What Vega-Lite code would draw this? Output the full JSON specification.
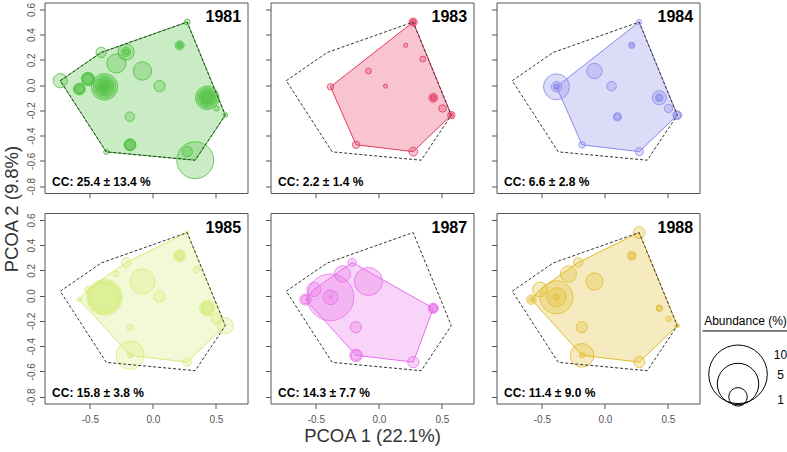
{
"$schema": "https://vega.github.io/schema/vega-lite/v6.json",
"padding": {"left": 0, "top": 1.5, "right": 0, "bottom": 0},
"spacing": 1.5,
"datasets": {
"sites": [
{"site":"S1","pc1":0.272,"pc2":0.500},{"site":"S2","pc1":0.213,"pc2":0.316},{"site":"S3","pc1":-0.410,"pc2":0.259},
{"site":"S4","pc1":-0.212,"pc2":0.263},{"site":"S5","pc1":-0.289,"pc2":0.172},{"site":"S6","pc1":-0.083,"pc2":0.112},
{"site":"S7","pc1":-0.735,"pc2":0.035},{"site":"S8","pc1":-0.515,"pc2":0.049},{"site":"S9","pc1":-0.583,"pc2":-0.031},
{"site":"S10","pc1":-0.384,"pc2":-0.013},{"site":"S11","pc1":0.053,"pc2":-0.008},{"site":"S12","pc1":0.432,"pc2":-0.100},
{"site":"S13","pc1":0.505,"pc2":-0.185},{"site":"S14","pc1":0.575,"pc2":-0.238},{"site":"S15","pc1":-0.183,"pc2":-0.250},
{"site":"S16","pc1":-0.181,"pc2":-0.473},{"site":"S17","pc1":-0.370,"pc2":-0.529},{"site":"S18","pc1":0.336,"pc2":-0.595},
{"site":"S19","pc1":0.273,"pc2":-0.527},{"site":"S20","pc1":0.349,"pc2":0.207},{"site":"S21","pc1":0.100,"pc2":-0.251}
],
"obs": [
{"year":1981,"site":"S1","abundance":0.10},{"year":1981,"site":"S2","abundance":0.23},{"year":1981,"site":"S2","abundance":0.10},{"year":1981,"site":"S2","abundance":0.06},
{"year":1981,"site":"S3","abundance":0.31},{"year":1981,"site":"S4","abundance":0.77},{"year":1981,"site":"S4","abundance":0.23},{"year":1981,"site":"S4","abundance":0.08},
{"year":1981,"site":"S5","abundance":1.07},{"year":1981,"site":"S6","abundance":0.98},{"year":1981,"site":"S7","abundance":0.59},
{"year":1981,"site":"S8","abundance":0.52},{"year":1981,"site":"S8","abundance":0.40},{"year":1981,"site":"S8","abundance":0.30},
{"year":1981,"site":"S9","abundance":0.41},{"year":1981,"site":"S9","abundance":0.30},{"year":1981,"site":"S9","abundance":0.20},
{"year":1981,"site":"S10","abundance":2.06},{"year":1981,"site":"S10","abundance":1.43},{"year":1981,"site":"S10","abundance":0.92},{"year":1981,"site":"S10","abundance":0.52},{"year":1981,"site":"S10","abundance":0.23},{"year":1981,"site":"S10","abundance":0.08},
{"year":1981,"site":"S11","abundance":0.37},
{"year":1981,"site":"S12","abundance":1.63},{"year":1981,"site":"S12","abundance":1.18},{"year":1981,"site":"S12","abundance":0.77},{"year":1981,"site":"S12","abundance":0.45},{"year":1981,"site":"S12","abundance":0.23},
{"year":1981,"site":"S13","abundance":0.08},{"year":1981,"site":"S14","abundance":0.07},{"year":1981,"site":"S15","abundance":0.26},
{"year":1981,"site":"S16","abundance":0.41},{"year":1981,"site":"S16","abundance":0.35},{"year":1981,"site":"S16","abundance":0.30},
{"year":1981,"site":"S17","abundance":0.08},{"year":1981,"site":"S18","abundance":3.98},{"year":1981,"site":"S19","abundance":0.31},

{"year":1983,"site":"S1","abundance":0.20},{"year":1983,"site":"S1","abundance":0.10},{"year":1983,"site":"S1","abundance":0.06},
{"year":1983,"site":"S2","abundance":0.05},{"year":1983,"site":"S20","abundance":0.10},{"year":1983,"site":"S6","abundance":0.10},
{"year":1983,"site":"S10","abundance":0.12},{"year":1983,"site":"S11","abundance":0.05},
{"year":1983,"site":"S12","abundance":0.23},{"year":1983,"site":"S12","abundance":0.10},{"year":1983,"site":"S12","abundance":0.05},
{"year":1983,"site":"S13","abundance":0.16},{"year":1983,"site":"S14","abundance":0.16},{"year":1983,"site":"S14","abundance":0.06},
{"year":1983,"site":"S16","abundance":0.16},{"year":1983,"site":"S19","abundance":0.23},

{"year":1984,"site":"S1","abundance":0.08},{"year":1984,"site":"S2","abundance":0.12},{"year":1984,"site":"S2","abundance":0.04},
{"year":1984,"site":"S6","abundance":0.69},
{"year":1984,"site":"S10","abundance":1.97},{"year":1984,"site":"S10","abundance":0.31},{"year":1984,"site":"S10","abundance":0.10},{"year":1984,"site":"S10","abundance":0.05},
{"year":1984,"site":"S11","abundance":0.26},
{"year":1984,"site":"S12","abundance":0.58},{"year":1984,"site":"S12","abundance":0.16},{"year":1984,"site":"S12","abundance":0.12},
{"year":1984,"site":"S13","abundance":0.20},{"year":1984,"site":"S14","abundance":0.23},{"year":1984,"site":"S14","abundance":0.15},
{"year":1984,"site":"S21","abundance":0.20},{"year":1984,"site":"S21","abundance":0.12},
{"year":1984,"site":"S16","abundance":0.12},{"year":1984,"site":"S19","abundance":0.20},

{"year":1985,"site":"S1","abundance":0.04},{"year":1985,"site":"S2","abundance":0.41},{"year":1985,"site":"S2","abundance":0.25},{"year":1985,"site":"S2","abundance":0.15},
{"year":1985,"site":"S20","abundance":0.12},{"year":1985,"site":"S4","abundance":0.26},{"year":1985,"site":"S5","abundance":0.08},
{"year":1985,"site":"S6","abundance":1.84},{"year":1985,"site":"S8","abundance":0.12},{"year":1985,"site":"S9","abundance":0.05},
{"year":1985,"site":"S10","abundance":3.66},{"year":1985,"site":"S10","abundance":3.10},{"year":1985,"site":"S10","abundance":2.50},
{"year":1985,"site":"S11","abundance":0.37},
{"year":1985,"site":"S12","abundance":0.69},{"year":1985,"site":"S12","abundance":0.45},{"year":1985,"site":"S12","abundance":0.30},
{"year":1985,"site":"S13","abundance":0.31},{"year":1985,"site":"S14","abundance":0.77},{"year":1985,"site":"S15","abundance":0.10},
{"year":1985,"site":"S16","abundance":2.30},{"year":1985,"site":"S16","abundance":0.08},{"year":1985,"site":"S19","abundance":0.20},

{"year":1987,"site":"S4","abundance":0.20},{"year":1987,"site":"S5","abundance":0.77},{"year":1987,"site":"S6","abundance":2.30},
{"year":1987,"site":"S8","abundance":0.59},{"year":1987,"site":"S9","abundance":0.37},{"year":1987,"site":"S9","abundance":0.20},
{"year":1987,"site":"S10","abundance":6.35},{"year":1987,"site":"S10","abundance":0.64},{"year":1987,"site":"S10","abundance":0.03},
{"year":1987,"site":"S12","abundance":0.31},{"year":1987,"site":"S12","abundance":0.20},{"year":1987,"site":"S12","abundance":0.15},
{"year":1987,"site":"S15","abundance":0.37},{"year":1987,"site":"S16","abundance":0.46},{"year":1987,"site":"S16","abundance":0.30},
{"year":1987,"site":"S19","abundance":0.37},

{"year":1988,"site":"S1","abundance":0.41},{"year":1988,"site":"S2","abundance":0.23},{"year":1988,"site":"S2","abundance":0.10},
{"year":1988,"site":"S4","abundance":0.26},{"year":1988,"site":"S5","abundance":0.77},{"year":1988,"site":"S6","abundance":0.86},
{"year":1988,"site":"S8","abundance":0.64},{"year":1988,"site":"S9","abundance":0.26},{"year":1988,"site":"S9","abundance":0.08},
{"year":1988,"site":"S10","abundance":3.19},{"year":1988,"site":"S10","abundance":1.07},{"year":1988,"site":"S10","abundance":0.10},
{"year":1988,"site":"S12","abundance":0.12},{"year":1988,"site":"S12","abundance":0.08},{"year":1988,"site":"S13","abundance":0.08},
{"year":1988,"site":"S14","abundance":0.05},{"year":1988,"site":"S15","abundance":0.37},{"year":1988,"site":"S16","abundance":1.63},
{"year":1988,"site":"S16","abundance":0.08},{"year":1988,"site":"S19","abundance":0.37}
],
"hulls": [
{"year":1981,"site":"S7","order":1},{"year":1981,"site":"S3","order":2},{"year":1981,"site":"S1","order":3},{"year":1981,"site":"S14","order":4},{"year":1981,"site":"S18","order":5},{"year":1981,"site":"S17","order":6},
{"year":1983,"site":"S10","order":1},{"year":1983,"site":"S1","order":2},{"year":1983,"site":"S14","order":3},{"year":1983,"site":"S19","order":4},{"year":1983,"site":"S16","order":5},
{"year":1984,"site":"S10","order":1},{"year":1984,"site":"S1","order":2},{"year":1984,"site":"S14","order":3},{"year":1984,"site":"S19","order":4},{"year":1984,"site":"S16","order":5},
{"year":1985,"site":"S9","order":1},{"year":1985,"site":"S8","order":2},{"year":1985,"site":"S4","order":3},{"year":1985,"site":"S1","order":4},{"year":1985,"site":"S14","order":5},{"year":1985,"site":"S19","order":6},{"year":1985,"site":"S16","order":7},
{"year":1987,"site":"S9","order":1},{"year":1987,"site":"S8","order":2},{"year":1987,"site":"S4","order":3},{"year":1987,"site":"S12","order":4},{"year":1987,"site":"S19","order":5},{"year":1987,"site":"S16","order":6},
{"year":1988,"site":"S9","order":1},{"year":1988,"site":"S8","order":2},{"year":1988,"site":"S4","order":3},{"year":1988,"site":"S1","order":4},{"year":1988,"site":"S14","order":5},{"year":1988,"site":"S19","order":6},{"year":1988,"site":"S16","order":7}
],
"panels": [
{"year":1981,"label":"1981","cc":"CC: 25.4 ± 13.4 %"},
{"year":1983,"label":"1983","cc":"CC: 2.2 ± 1.4 %"},
{"year":1984,"label":"1984","cc":"CC: 6.6 ± 2.8 %"},
{"year":1985,"label":"1985","cc":"CC: 15.8 ± 3.8 %"},
{"year":1987,"label":"1987","cc":"CC: 14.3 ± 7.7 %"},
{"year":1988,"label":"1988","cc":"CC: 11.4 ± 9.0 %"}
],
"legendrows": [{"abundance": 10, "label": "10"}, {"abundance": 5, "label": "5"}, {"abundance": 1, "label": "1"}]
},
"hconcat": [
{
"width": 24, "height": 413, "view": {"stroke": null},
"data": {"values": [{"t": "PCOA 2 (9.8%)"}]},
"mark": {"type": "text", "angle": 270, "fontSize": 18.5, "color": "#333333", "align": "center", "baseline": "middle"},
"encoding": {"text": {"field": "t"}}
},
{
"vconcat": [
{"hconcat": [
{
"width": 203, "height": 190.5,
"layer": [
{"encoding": {
  "x": {"field": "pc1", "type": "quantitative", "scale": {"domain": [-0.86, 0.751], "nice": false, "zero": false}, "axis": {"values": [-0.5, 0, 0.5], "labels": false, "title": null}},
  "y": {"field": "pc2", "type": "quantitative", "scale": {"domain": [-0.855, 0.655], "nice": false, "zero": false}, "axis": {"values": [-0.8, -0.6, -0.4, -0.2, 0, 0.2, 0.4, 0.6], "labels": true, "labelOverlap": false, "title": null, "labelExpr": "(datum.value < 0 ? '-' : '') + format(abs(datum.value), '.1f')"}}},
 "layer": [
  {"data": {"name": "hulls"}, "transform": [{"filter": "datum.year == 1981"}, {"lookup": "site", "from": {"data": {"name": "sites"}, "key": "site", "fields": ["pc1", "pc2"]}}],
   "mark": {"type": "line", "interpolate": "linear-closed", "fill": "#4CC03C", "fillOpacity": 0.3, "stroke": "#4CC03C", "strokeWidth": 1},
   "encoding": {"order": {"field": "order", "type": "quantitative"}}},
  {"data": {"name": "obs"}, "transform": [{"filter": "datum.year == 1981"}, {"lookup": "site", "from": {"data": {"name": "sites"}, "key": "site", "fields": ["pc1", "pc2"]}}],
   "mark": {"type": "circle", "fill": "#4CC03C", "fillOpacity": 0.3, "stroke": "#4CC03C", "strokeOpacity": 0.8, "strokeWidth": 1, "opacity": 1},
   "encoding": {"size": {"field": "abundance", "type": "quantitative", "scale": {"type": "linear", "domain": [0, 10], "range": [0, 3430], "zero": true}, "legend": null}}},
  {"data": {"name": "hulls"}, "transform": [{"filter": "datum.year == 1981"}, {"lookup": "site", "from": {"data": {"name": "sites"}, "key": "site", "fields": ["pc1", "pc2"]}}],
   "mark": {"type": "line", "interpolate": "linear-closed", "stroke": "#333333", "strokeWidth": 1, "strokeDash": [3, 2]},
   "encoding": {"order": {"field": "order", "type": "quantitative"}}}
 ]},
{"data": {"name": "panels"}, "transform": [{"filter": "datum.year == 1981"}],
 "mark": {"type": "text", "align": "right", "baseline": "alphabetic", "fontSize": 16, "fontWeight": "bold", "color": "#000000"},
 "encoding": {
  "x": {"datum": 0.70, "type": "quantitative", "scale": {"domain": [-0.86, 0.751], "nice": false, "zero": false}, "axis": {"values": [-0.5, 0, 0.5], "labels": false, "title": null}},
  "y": {"datum": 0.50, "type": "quantitative", "scale": {"domain": [-0.855, 0.655], "nice": false, "zero": false}, "axis": {"values": [-0.8, -0.6, -0.4, -0.2, 0, 0.2, 0.4, 0.6], "labels": true, "labelOverlap": false, "title": null, "labelExpr": "(datum.value < 0 ? '-' : '') + format(abs(datum.value), '.1f')"}},
  "text": {"field": "label"}}},
{"data": {"name": "panels"}, "transform": [{"filter": "datum.year == 1981"}],
 "mark": {"type": "text", "align": "left", "baseline": "alphabetic", "fontSize": 12, "fontWeight": "bold", "color": "#000000"},
 "encoding": {
  "x": {"datum": -0.80, "type": "quantitative", "scale": {"domain": [-0.86, 0.751], "nice": false, "zero": false}, "axis": {"values": [-0.5, 0, 0.5], "labels": false, "title": null}},
  "y": {"datum": -0.803, "type": "quantitative", "scale": {"domain": [-0.855, 0.655], "nice": false, "zero": false}, "axis": {"values": [-0.8, -0.6, -0.4, -0.2, 0, 0.2, 0.4, 0.6], "labels": true, "labelOverlap": false, "title": null, "labelExpr": "(datum.value < 0 ? '-' : '') + format(abs(datum.value), '.1f')"}},
  "text": {"field": "cc"}}}
]
},
{
"width": 203, "height": 190.5,
"layer": [
{"encoding": {
  "x": {"field": "pc1", "type": "quantitative", "scale": {"domain": [-0.86, 0.751], "nice": false, "zero": false}, "axis": {"values": [-0.5, 0, 0.5], "labels": false, "title": null}},
  "y": {"field": "pc2", "type": "quantitative", "scale": {"domain": [-0.855, 0.655], "nice": false, "zero": false}, "axis": {"values": [-0.8, -0.6, -0.4, -0.2, 0, 0.2, 0.4, 0.6], "labels": false, "title": null}}},
 "layer": [
  {"data": {"name": "hulls"}, "transform": [{"filter": "datum.year == 1983"}, {"lookup": "site", "from": {"data": {"name": "sites"}, "key": "site", "fields": ["pc1", "pc2"]}}],
   "mark": {"type": "line", "interpolate": "linear-closed", "fill": "#E43A62", "fillOpacity": 0.3, "stroke": "#E43A62", "strokeWidth": 1},
   "encoding": {"order": {"field": "order", "type": "quantitative"}}},
  {"data": {"name": "obs"}, "transform": [{"filter": "datum.year == 1983"}, {"lookup": "site", "from": {"data": {"name": "sites"}, "key": "site", "fields": ["pc1", "pc2"]}}],
   "mark": {"type": "circle", "fill": "#E43A62", "fillOpacity": 0.3, "stroke": "#E43A62", "strokeOpacity": 0.8, "strokeWidth": 1, "opacity": 1},
   "encoding": {"size": {"field": "abundance", "type": "quantitative", "scale": {"type": "linear", "domain": [0, 10], "range": [0, 3430], "zero": true}, "legend": null}}},
  {"data": {"name": "hulls"}, "transform": [{"filter": "datum.year == 1981"}, {"lookup": "site", "from": {"data": {"name": "sites"}, "key": "site", "fields": ["pc1", "pc2"]}}],
   "mark": {"type": "line", "interpolate": "linear-closed", "stroke": "#333333", "strokeWidth": 1, "strokeDash": [3, 2]},
   "encoding": {"order": {"field": "order", "type": "quantitative"}}}
 ]},
{"data": {"name": "panels"}, "transform": [{"filter": "datum.year == 1983"}],
 "mark": {"type": "text", "align": "right", "baseline": "alphabetic", "fontSize": 16, "fontWeight": "bold", "color": "#000000"},
 "encoding": {
  "x": {"datum": 0.70, "type": "quantitative", "scale": {"domain": [-0.86, 0.751], "nice": false, "zero": false}, "axis": {"values": [-0.5, 0, 0.5], "labels": false, "title": null}},
  "y": {"datum": 0.50, "type": "quantitative", "scale": {"domain": [-0.855, 0.655], "nice": false, "zero": false}, "axis": {"values": [-0.8, -0.6, -0.4, -0.2, 0, 0.2, 0.4, 0.6], "labels": false, "title": null}},
  "text": {"field": "label"}}},
{"data": {"name": "panels"}, "transform": [{"filter": "datum.year == 1983"}],
 "mark": {"type": "text", "align": "left", "baseline": "alphabetic", "fontSize": 12, "fontWeight": "bold", "color": "#000000"},
 "encoding": {
  "x": {"datum": -0.80, "type": "quantitative", "scale": {"domain": [-0.86, 0.751], "nice": false, "zero": false}, "axis": {"values": [-0.5, 0, 0.5], "labels": false, "title": null}},
  "y": {"datum": -0.803, "type": "quantitative", "scale": {"domain": [-0.855, 0.655], "nice": false, "zero": false}, "axis": {"values": [-0.8, -0.6, -0.4, -0.2, 0, 0.2, 0.4, 0.6], "labels": false, "title": null}},
  "text": {"field": "cc"}}}
]
},
{
"width": 203, "height": 190.5,
"layer": [
{"encoding": {
  "x": {"field": "pc1", "type": "quantitative", "scale": {"domain": [-0.86, 0.751], "nice": false, "zero": false}, "axis": {"values": [-0.5, 0, 0.5], "labels": false, "title": null}},
  "y": {"field": "pc2", "type": "quantitative", "scale": {"domain": [-0.855, 0.655], "nice": false, "zero": false}, "axis": {"values": [-0.8, -0.6, -0.4, -0.2, 0, 0.2, 0.4, 0.6], "labels": false, "title": null}}},
 "layer": [
  {"data": {"name": "hulls"}, "transform": [{"filter": "datum.year == 1984"}, {"lookup": "site", "from": {"data": {"name": "sites"}, "key": "site", "fields": ["pc1", "pc2"]}}],
   "mark": {"type": "line", "interpolate": "linear-closed", "fill": "#8A8AEC", "fillOpacity": 0.3, "stroke": "#8A8AEC", "strokeWidth": 1},
   "encoding": {"order": {"field": "order", "type": "quantitative"}}},
  {"data": {"name": "obs"}, "transform": [{"filter": "datum.year == 1984"}, {"lookup": "site", "from": {"data": {"name": "sites"}, "key": "site", "fields": ["pc1", "pc2"]}}],
   "mark": {"type": "circle", "fill": "#8A8AEC", "fillOpacity": 0.3, "stroke": "#8A8AEC", "strokeOpacity": 0.8, "strokeWidth": 1, "opacity": 1},
   "encoding": {"size": {"field": "abundance", "type": "quantitative", "scale": {"type": "linear", "domain": [0, 10], "range": [0, 3430], "zero": true}, "legend": null}}},
  {"data": {"name": "hulls"}, "transform": [{"filter": "datum.year == 1981"}, {"lookup": "site", "from": {"data": {"name": "sites"}, "key": "site", "fields": ["pc1", "pc2"]}}],
   "mark": {"type": "line", "interpolate": "linear-closed", "stroke": "#333333", "strokeWidth": 1, "strokeDash": [3, 2]},
   "encoding": {"order": {"field": "order", "type": "quantitative"}}}
 ]},
{"data": {"name": "panels"}, "transform": [{"filter": "datum.year == 1984"}],
 "mark": {"type": "text", "align": "right", "baseline": "alphabetic", "fontSize": 16, "fontWeight": "bold", "color": "#000000"},
 "encoding": {
  "x": {"datum": 0.70, "type": "quantitative", "scale": {"domain": [-0.86, 0.751], "nice": false, "zero": false}, "axis": {"values": [-0.5, 0, 0.5], "labels": false, "title": null}},
  "y": {"datum": 0.50, "type": "quantitative", "scale": {"domain": [-0.855, 0.655], "nice": false, "zero": false}, "axis": {"values": [-0.8, -0.6, -0.4, -0.2, 0, 0.2, 0.4, 0.6], "labels": false, "title": null}},
  "text": {"field": "label"}}},
{"data": {"name": "panels"}, "transform": [{"filter": "datum.year == 1984"}],
 "mark": {"type": "text", "align": "left", "baseline": "alphabetic", "fontSize": 12, "fontWeight": "bold", "color": "#000000"},
 "encoding": {
  "x": {"datum": -0.80, "type": "quantitative", "scale": {"domain": [-0.86, 0.751], "nice": false, "zero": false}, "axis": {"values": [-0.5, 0, 0.5], "labels": false, "title": null}},
  "y": {"datum": -0.803, "type": "quantitative", "scale": {"domain": [-0.855, 0.655], "nice": false, "zero": false}, "axis": {"values": [-0.8, -0.6, -0.4, -0.2, 0, 0.2, 0.4, 0.6], "labels": false, "title": null}},
  "text": {"field": "cc"}}}
]
}
], "spacing": 16},
{"hconcat": [
{
"width": 203, "height": 190.5,
"layer": [
{"encoding": {
  "x": {"field": "pc1", "type": "quantitative", "scale": {"domain": [-0.86, 0.751], "nice": false, "zero": false}, "axis": {"values": [-0.5, 0, 0.5], "labels": true, "title": null, "labelExpr": "(datum.value < 0 ? '-' : '') + format(abs(datum.value), '.1f')"}},
  "y": {"field": "pc2", "type": "quantitative", "scale": {"domain": [-0.855, 0.655], "nice": false, "zero": false}, "axis": {"values": [-0.8, -0.6, -0.4, -0.2, 0, 0.2, 0.4, 0.6], "labels": true, "labelOverlap": false, "title": null, "labelExpr": "(datum.value < 0 ? '-' : '') + format(abs(datum.value), '.1f')"}}},
 "layer": [
  {"data": {"name": "hulls"}, "transform": [{"filter": "datum.year == 1985"}, {"lookup": "site", "from": {"data": {"name": "sites"}, "key": "site", "fields": ["pc1", "pc2"]}}],
   "mark": {"type": "line", "interpolate": "linear-closed", "fill": "#D4EB76", "fillOpacity": 0.3, "stroke": "#D4EB76", "strokeWidth": 1},
   "encoding": {"order": {"field": "order", "type": "quantitative"}}},
  {"data": {"name": "obs"}, "transform": [{"filter": "datum.year == 1985"}, {"lookup": "site", "from": {"data": {"name": "sites"}, "key": "site", "fields": ["pc1", "pc2"]}}],
   "mark": {"type": "circle", "fill": "#D4EB76", "fillOpacity": 0.3, "stroke": "#D4EB76", "strokeOpacity": 0.8, "strokeWidth": 1, "opacity": 1},
   "encoding": {"size": {"field": "abundance", "type": "quantitative", "scale": {"type": "linear", "domain": [0, 10], "range": [0, 3430], "zero": true}, "legend": null}}},
  {"data": {"name": "hulls"}, "transform": [{"filter": "datum.year == 1981"}, {"lookup": "site", "from": {"data": {"name": "sites"}, "key": "site", "fields": ["pc1", "pc2"]}}],
   "mark": {"type": "line", "interpolate": "linear-closed", "stroke": "#333333", "strokeWidth": 1, "strokeDash": [3, 2]},
   "encoding": {"order": {"field": "order", "type": "quantitative"}}}
 ]},
{"data": {"name": "panels"}, "transform": [{"filter": "datum.year == 1985"}],
 "mark": {"type": "text", "align": "right", "baseline": "alphabetic", "fontSize": 16, "fontWeight": "bold", "color": "#000000"},
 "encoding": {
  "x": {"datum": 0.70, "type": "quantitative", "scale": {"domain": [-0.86, 0.751], "nice": false, "zero": false}, "axis": {"values": [-0.5, 0, 0.5], "labels": true, "title": null, "labelExpr": "(datum.value < 0 ? '-' : '') + format(abs(datum.value), '.1f')"}},
  "y": {"datum": 0.50, "type": "quantitative", "scale": {"domain": [-0.855, 0.655], "nice": false, "zero": false}, "axis": {"values": [-0.8, -0.6, -0.4, -0.2, 0, 0.2, 0.4, 0.6], "labels": true, "labelOverlap": false, "title": null, "labelExpr": "(datum.value < 0 ? '-' : '') + format(abs(datum.value), '.1f')"}},
  "text": {"field": "label"}}},
{"data": {"name": "panels"}, "transform": [{"filter": "datum.year == 1985"}],
 "mark": {"type": "text", "align": "left", "baseline": "alphabetic", "fontSize": 12, "fontWeight": "bold", "color": "#000000"},
 "encoding": {
  "x": {"datum": -0.80, "type": "quantitative", "scale": {"domain": [-0.86, 0.751], "nice": false, "zero": false}, "axis": {"values": [-0.5, 0, 0.5], "labels": true, "title": null, "labelExpr": "(datum.value < 0 ? '-' : '') + format(abs(datum.value), '.1f')"}},
  "y": {"datum": -0.803, "type": "quantitative", "scale": {"domain": [-0.855, 0.655], "nice": false, "zero": false}, "axis": {"values": [-0.8, -0.6, -0.4, -0.2, 0, 0.2, 0.4, 0.6], "labels": true, "labelOverlap": false, "title": null, "labelExpr": "(datum.value < 0 ? '-' : '') + format(abs(datum.value), '.1f')"}},
  "text": {"field": "cc"}}}
]
},
{
"width": 203, "height": 190.5,
"layer": [
{"encoding": {
  "x": {"field": "pc1", "type": "quantitative", "scale": {"domain": [-0.86, 0.751], "nice": false, "zero": false}, "axis": {"values": [-0.5, 0, 0.5], "labels": true, "title": "PCOA 1 (22.1%)", "titleFontSize": 18.5, "titleFontWeight": "normal", "titleColor": "#333333", "titlePadding": 2, "labelExpr": "(datum.value < 0 ? '-' : '') + format(abs(datum.value), '.1f')"}},
  "y": {"field": "pc2", "type": "quantitative", "scale": {"domain": [-0.855, 0.655], "nice": false, "zero": false}, "axis": {"values": [-0.8, -0.6, -0.4, -0.2, 0, 0.2, 0.4, 0.6], "labels": false, "title": null}}},
 "layer": [
  {"data": {"name": "hulls"}, "transform": [{"filter": "datum.year == 1987"}, {"lookup": "site", "from": {"data": {"name": "sites"}, "key": "site", "fields": ["pc1", "pc2"]}}],
   "mark": {"type": "line", "interpolate": "linear-closed", "fill": "#E870E8", "fillOpacity": 0.3, "stroke": "#E870E8", "strokeWidth": 1},
   "encoding": {"order": {"field": "order", "type": "quantitative"}}},
  {"data": {"name": "obs"}, "transform": [{"filter": "datum.year == 1987"}, {"lookup": "site", "from": {"data": {"name": "sites"}, "key": "site", "fields": ["pc1", "pc2"]}}],
   "mark": {"type": "circle", "fill": "#E870E8", "fillOpacity": 0.3, "stroke": "#E870E8", "strokeOpacity": 0.8, "strokeWidth": 1, "opacity": 1},
   "encoding": {"size": {"field": "abundance", "type": "quantitative", "scale": {"type": "linear", "domain": [0, 10], "range": [0, 3430], "zero": true}, "legend": null}}},
  {"data": {"name": "hulls"}, "transform": [{"filter": "datum.year == 1981"}, {"lookup": "site", "from": {"data": {"name": "sites"}, "key": "site", "fields": ["pc1", "pc2"]}}],
   "mark": {"type": "line", "interpolate": "linear-closed", "stroke": "#333333", "strokeWidth": 1, "strokeDash": [3, 2]},
   "encoding": {"order": {"field": "order", "type": "quantitative"}}}
 ]},
{"data": {"name": "panels"}, "transform": [{"filter": "datum.year == 1987"}],
 "mark": {"type": "text", "align": "right", "baseline": "alphabetic", "fontSize": 16, "fontWeight": "bold", "color": "#000000"},
 "encoding": {
  "x": {"datum": 0.70, "type": "quantitative", "scale": {"domain": [-0.86, 0.751], "nice": false, "zero": false}, "axis": {"values": [-0.5, 0, 0.5], "labels": true, "title": "PCOA 1 (22.1%)", "titleFontSize": 18.5, "titleFontWeight": "normal", "titleColor": "#333333", "titlePadding": 2, "labelExpr": "(datum.value < 0 ? '-' : '') + format(abs(datum.value), '.1f')"}},
  "y": {"datum": 0.50, "type": "quantitative", "scale": {"domain": [-0.855, 0.655], "nice": false, "zero": false}, "axis": {"values": [-0.8, -0.6, -0.4, -0.2, 0, 0.2, 0.4, 0.6], "labels": false, "title": null}},
  "text": {"field": "label"}}},
{"data": {"name": "panels"}, "transform": [{"filter": "datum.year == 1987"}],
 "mark": {"type": "text", "align": "left", "baseline": "alphabetic", "fontSize": 12, "fontWeight": "bold", "color": "#000000"},
 "encoding": {
  "x": {"datum": -0.80, "type": "quantitative", "scale": {"domain": [-0.86, 0.751], "nice": false, "zero": false}, "axis": {"values": [-0.5, 0, 0.5], "labels": true, "title": "PCOA 1 (22.1%)", "titleFontSize": 18.5, "titleFontWeight": "normal", "titleColor": "#333333", "titlePadding": 2, "labelExpr": "(datum.value < 0 ? '-' : '') + format(abs(datum.value), '.1f')"}},
  "y": {"datum": -0.803, "type": "quantitative", "scale": {"domain": [-0.855, 0.655], "nice": false, "zero": false}, "axis": {"values": [-0.8, -0.6, -0.4, -0.2, 0, 0.2, 0.4, 0.6], "labels": false, "title": null}},
  "text": {"field": "cc"}}}
]
},
{"hconcat": [
{
"width": 203, "height": 190.5,
"layer": [
{"encoding": {
  "x": {"field": "pc1", "type": "quantitative", "scale": {"domain": [-0.86, 0.751], "nice": false, "zero": false}, "axis": {"values": [-0.5, 0, 0.5], "labels": true, "title": null, "labelExpr": "(datum.value < 0 ? '-' : '') + format(abs(datum.value), '.1f')"}},
  "y": {"field": "pc2", "type": "quantitative", "scale": {"domain": [-0.855, 0.655], "nice": false, "zero": false}, "axis": {"values": [-0.8, -0.6, -0.4, -0.2, 0, 0.2, 0.4, 0.6], "labels": false, "title": null}}},
 "layer": [
  {"data": {"name": "hulls"}, "transform": [{"filter": "datum.year == 1988"}, {"lookup": "site", "from": {"data": {"name": "sites"}, "key": "site", "fields": ["pc1", "pc2"]}}],
   "mark": {"type": "line", "interpolate": "linear-closed", "fill": "#E1BC2D", "fillOpacity": 0.3, "stroke": "#E1BC2D", "strokeWidth": 1},
   "encoding": {"order": {"field": "order", "type": "quantitative"}}},
  {"data": {"name": "obs"}, "transform": [{"filter": "datum.year == 1988"}, {"lookup": "site", "from": {"data": {"name": "sites"}, "key": "site", "fields": ["pc1", "pc2"]}}],
   "mark": {"type": "circle", "fill": "#E1BC2D", "fillOpacity": 0.3, "stroke": "#E1BC2D", "strokeOpacity": 0.8, "strokeWidth": 1, "opacity": 1},
   "encoding": {"size": {"field": "abundance", "type": "quantitative", "scale": {"type": "linear", "domain": [0, 10], "range": [0, 3430], "zero": true}, "legend": null}}},
  {"data": {"name": "hulls"}, "transform": [{"filter": "datum.year == 1981"}, {"lookup": "site", "from": {"data": {"name": "sites"}, "key": "site", "fields": ["pc1", "pc2"]}}],
   "mark": {"type": "line", "interpolate": "linear-closed", "stroke": "#333333", "strokeWidth": 1, "strokeDash": [3, 2]},
   "encoding": {"order": {"field": "order", "type": "quantitative"}}}
 ]},
{"data": {"name": "panels"}, "transform": [{"filter": "datum.year == 1988"}],
 "mark": {"type": "text", "align": "right", "baseline": "alphabetic", "fontSize": 16, "fontWeight": "bold", "color": "#000000"},
 "encoding": {
  "x": {"datum": 0.70, "type": "quantitative", "scale": {"domain": [-0.86, 0.751], "nice": false, "zero": false}, "axis": {"values": [-0.5, 0, 0.5], "labels": true, "title": null, "labelExpr": "(datum.value < 0 ? '-' : '') + format(abs(datum.value), '.1f')"}},
  "y": {"datum": 0.50, "type": "quantitative", "scale": {"domain": [-0.855, 0.655], "nice": false, "zero": false}, "axis": {"values": [-0.8, -0.6, -0.4, -0.2, 0, 0.2, 0.4, 0.6], "labels": false, "title": null}},
  "text": {"field": "label"}}},
{"data": {"name": "panels"}, "transform": [{"filter": "datum.year == 1988"}],
 "mark": {"type": "text", "align": "left", "baseline": "alphabetic", "fontSize": 12, "fontWeight": "bold", "color": "#000000"},
 "encoding": {
  "x": {"datum": -0.80, "type": "quantitative", "scale": {"domain": [-0.86, 0.751], "nice": false, "zero": false}, "axis": {"values": [-0.5, 0, 0.5], "labels": true, "title": null, "labelExpr": "(datum.value < 0 ? '-' : '') + format(abs(datum.value), '.1f')"}},
  "y": {"datum": -0.803, "type": "quantitative", "scale": {"domain": [-0.855, 0.655], "nice": false, "zero": false}, "axis": {"values": [-0.8, -0.6, -0.4, -0.2, 0, 0.2, 0.4, 0.6], "labels": false, "title": null}},
  "text": {"field": "cc"}}}
]
},
{
"width": 86, "height": 194.3, "view": {"stroke": null},
"data": {"name": "legendrows"},
"layer": [
{"mark": {"type": "point", "shape": "circle", "filled": false, "stroke": "#000000", "strokeWidth": 1, "opacity": 1},
 "encoding": {
  "x": {"datum": 0.413, "type": "quantitative", "scale": {"domain": [0, 1], "nice": false, "zero": false}, "axis": null},
  "y": {"field": "abundance", "type": "quantitative", "scale": {"type": "sqrt", "domain": [0, 10], "range": [194.3, 161.3], "zero": true, "nice": false}, "axis": null},
  "size": {"field": "abundance", "type": "quantitative", "scale": {"type": "linear", "domain": [0, 10], "range": [0, 3430], "zero": true}, "legend": null}
 }},
{"mark": {"type": "text", "align": "center", "baseline": "middle", "dy": 14, "fontSize": 12, "color": "#000000"},
 "encoding": {
  "x": {"datum": 0.907, "type": "quantitative", "axis": null},
  "y": {"field": "abundance", "type": "quantitative", "scale": {"type": "sqrt", "domain": [0, 10], "range": [194.3, 128.3], "zero": true, "nice": false}, "axis": null},
  "text": {"field": "label"}
 }},
{"data": {"values": [{"heading": "Abundance (%)"}]},
 "mark": {"type": "text", "align": "center", "baseline": "bottom", "dy": -3, "fontSize": 12, "color": "#000000"},
 "encoding": {
  "y": {"datum": 0.393, "type": "quantitative", "scale": {"domain": [0, 1], "range": [194.3, 0], "nice": false, "zero": false}, "axis": null},
  "text": {"field": "heading"}
 }},
{"data": {"values": [{"heading": "Abundance (%)"}]},
 "mark": {"type": "rule", "color": "#000000", "strokeWidth": 1},
 "encoding": {
  "y": {"datum": 0.393, "type": "quantitative", "scale": {"domain": [0, 1], "range": [194.3, 0], "nice": false, "zero": false}, "axis": null}
 }}
],
"resolve": {"scale": {"y": "independent"}}
}
], "spacing": 1}
], "spacing": 16}
], "spacing": 12.5}
],
"config": {
"font": "Liberation Sans",
"view": {"stroke": "#555555", "strokeWidth": 1},
"axis": {"domain": false, "grid": false, "ticks": true, "tickSize": 5, "tickColor": "#555555", "labelColor": "#555555", "labelFontSize": 10, "labelFont": "Liberation Sans", "labelPadding": 3, "labelFlush": false, "labelOverlap": false},
"axisX": {"labelPadding": 6},
"axisY": {"labelAngle": -90, "labelAlign": "center", "labelBaseline": "bottom"}
}
}
